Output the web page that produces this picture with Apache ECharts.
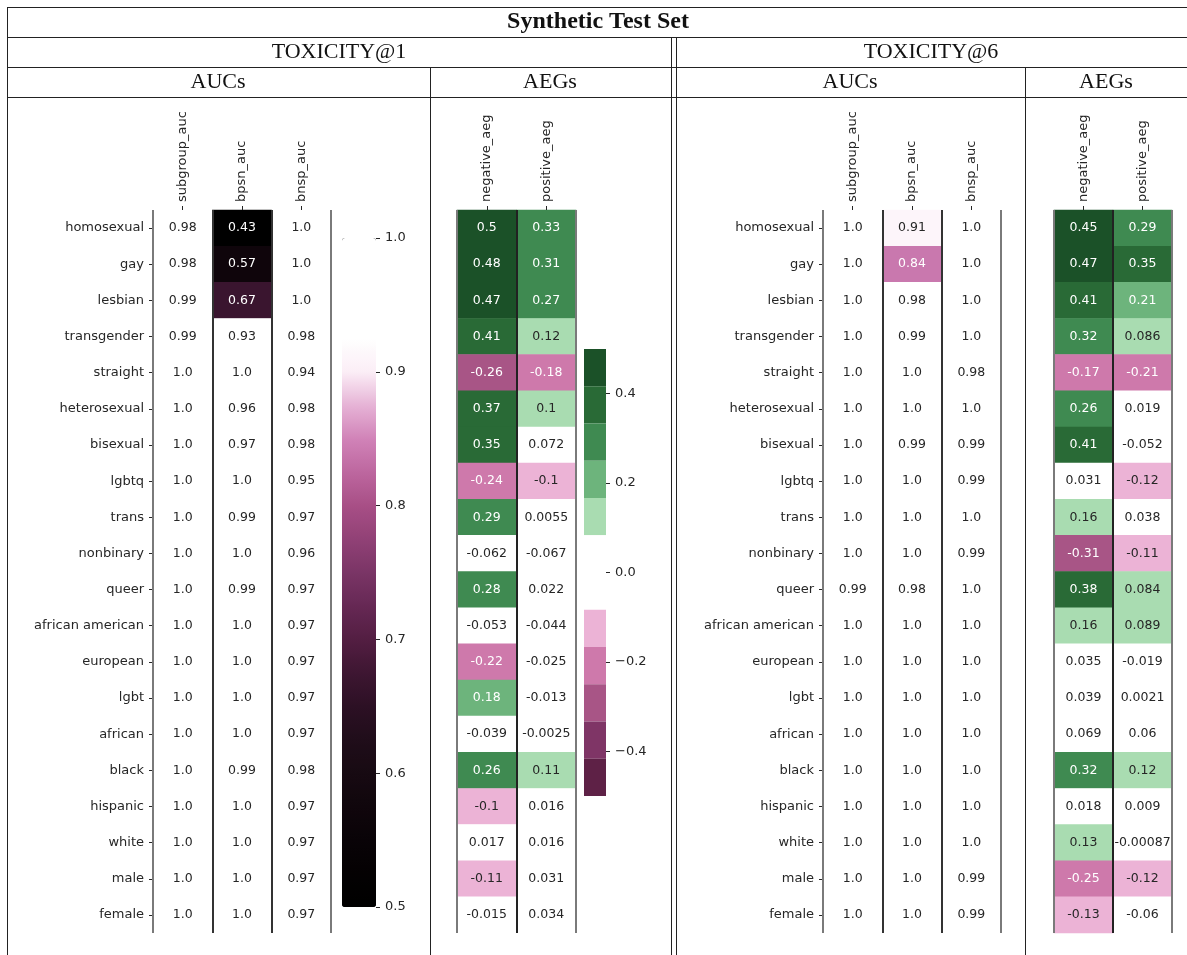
<!DOCTYPE html>
<html><head><meta charset="utf-8">
<script src="https://cdn.jsdelivr.net/npm/echarts@6/dist/echarts.min.js"></script>
<style>html,body{margin:0;padding:0;background:#fff}#c{width:1187px;height:955px}</style>
</head><body><div id="c"></div>
<script>
// ---------- DATA ----------
const groups = ['homosexual','gay','lesbian','transgender','straight','heterosexual','bisexual','lgbtq','trans','nonbinary','queer','african american','european','lgbt','african','black','hispanic','white','male','female'];
const aucMetrics = ['subgroup_auc','bpsn_auc','bnsp_auc'];
const aegMetrics = ['negative_aeg','positive_aeg'];

// TOXICITY@1
const subgroupAuc1 = [0.98,0.98,0.99,0.99,1.0,1.0,1.0,1.0,1.0,1.0,1.0,1.0,1.0,1.0,1.0,1.0,1.0,1.0,1.0,1.0];
const bpsnAuc1     = [0.43,0.57,0.67,0.93,1.0,0.96,0.97,1.0,0.99,1.0,0.99,1.0,1.0,1.0,1.0,0.99,1.0,1.0,1.0,1.0];
const bnspAuc1     = [1.0,1.0,1.0,0.98,0.94,0.98,0.98,0.95,0.97,0.96,0.97,0.97,0.97,0.97,0.97,0.98,0.97,0.97,0.97,0.97];
const negativeAeg1 = [0.5,0.48,0.47,0.41,-0.26,0.37,0.35,-0.24,0.29,-0.062,0.28,-0.053,-0.22,0.18,-0.039,0.26,-0.1,0.017,-0.11,-0.015];
const positiveAeg1 = [0.33,0.31,0.27,0.12,-0.18,0.1,0.072,-0.1,0.0055,-0.067,0.022,-0.044,-0.025,-0.013,-0.0025,0.11,0.016,0.016,0.031,0.034];

// TOXICITY@6
const subgroupAuc6 = [1.0,1.0,1.0,1.0,1.0,1.0,1.0,1.0,1.0,1.0,0.99,1.0,1.0,1.0,1.0,1.0,1.0,1.0,1.0,1.0];
const bpsnAuc6     = [0.91,0.84,0.98,0.99,1.0,1.0,0.99,1.0,1.0,1.0,0.98,1.0,1.0,1.0,1.0,1.0,1.0,1.0,1.0,1.0];
const bnspAuc6     = [1.0,1.0,1.0,1.0,0.98,1.0,0.99,0.99,1.0,0.99,1.0,1.0,1.0,1.0,1.0,1.0,1.0,1.0,0.99,0.99];
const negativeAeg6 = [0.45,0.47,0.41,0.32,-0.17,0.26,0.41,0.031,0.16,-0.31,0.38,0.16,0.035,0.039,0.069,0.32,0.018,0.13,-0.25,-0.13];
const positiveAeg6 = [0.29,0.35,0.21,0.086,-0.21,0.019,-0.052,-0.12,0.038,-0.11,0.084,0.089,-0.019,0.0021,0.06,0.12,0.009,-0.00087,-0.12,-0.06];

// colorbar ticks
const aucBarTicks = [0.5,0.6,0.7,0.8,0.9,1.0];
const aegBarTicks = [-0.4,-0.2,0.0,0.2,0.4];

// ---------- STYLE ----------
const SANS = 'DejaVu Sans';
const SERIF = 'Liberation Serif';
const TXT = '#262626';
// colour stops every 0.025 from 0.5 to 1.0
const aucColors = ['#000000','#040102','#090307','#10060c','#170a12','#200d1a','#2c1024','#3e1632','#531e42','#662854','#7a3566',
  '#914176','#a84f86','#bd679f','#d183b8','#e6b3d6','#fbeef6','#ffffff','#ffffff','#ffffff','#ffffff'];
const aegColors = ['#5e2146','#7f3566','#a85586','#ce79ab','#ecb3d6','#ffffff','#ffffff','#a9dcb1','#6db47c','#3f8a51','#296a36','#1b5128'];
const aegPieces = aegColors.map((c, i) => {
  const p = {color: c};
  if (i > 0) p.gte = -0.5 + i / 12;
  if (i < 11) p.lt = -0.5 + (i + 1) / 12;
  return p;
});

function fmt(v) { return Number.isInteger(v) ? v.toFixed(1) : String(v); }
function cells(cols, darkFn) {
  const out = [];
  cols.forEach((arr, xi) => arr.forEach((v, yi) => {
    out.push({value: [xi, yi, v], label: {color: darkFn(v) ? '#ffffff' : TXT}});
  }));
  return out;
}
const aucDark = v => v < 0.87;
const aegDark = v => Math.abs(v) >= 1 / 6;

const grids = [
  {left: 153, top: 210, width: 178, height: 723},
  {left: 457, top: 210, width: 119, height: 723},
  {left: 823, top: 210, width: 178, height: 723},
  {left: 1054, top: 210, width: 118, height: 723},
  {left: 342, top: 238, width: 34, height: 669},
  {left: 584, top: 349, width: 22, height: 447}
];

function catX(gi, cats, edgeColors) {
  return {
    type: 'category', gridIndex: gi, data: cats, position: 'top', z: 5,
    axisLine: {show: false},
    axisTick: {show: true, alignWithLabel: true, length: 4, lineStyle: {color: TXT, width: 1}},
    axisLabel: {interval: 0, rotate: -90, margin: 8, color: TXT, fontFamily: SANS, fontSize: 13},
    splitLine: {show: true, interval: 0, lineStyle: {color: edgeColors, width: 2}}
  };
}
function catY(gi, showLabels) {
  return {
    type: 'category', gridIndex: gi, data: groups, inverse: true,
    axisLine: {show: false},
    axisTick: {show: showLabels, alignWithLabel: true, length: 4, lineStyle: {color: TXT, width: 1}},
    axisLabel: {show: showLabels, interval: 0, margin: 9, color: TXT, fontFamily: SANS, fontSize: 13},
    splitLine: {show: false}
  };
}
function hiddenX(gi) {
  return {type: 'category', gridIndex: gi, data: [''], show: false,
    axisLine: {show: false, onZero: false}, axisTick: {show: false}, axisLabel: {show: false}, splitLine: {show: false}};
}
function barAxis(gi, min, max, ticks) {
  return {type: 'value', gridIndex: gi, min: min, max: max, position: 'right',
    axisLine: {show: false, onZero: false}, splitLine: {show: false}, splitArea: {show: false}, minorTick: {show: false},
    axisTick: {show: true, length: 4, customValues: ticks, lineStyle: {color: TXT}},
    axisLabel: {customValues: ticks, margin: 9, color: TXT, fontFamily: SANS, fontSize: 13, formatter: barLabel}};
}
const barLabel = v => (v < 0 ? '\u2212' + (-v).toFixed(1) : v.toFixed(1));

const labelOpt = {show: true, formatter: p => fmt(p.value[2]), fontFamily: SANS, fontSize: 12.5};

function header(text, x, y, bold) {
  return {type: 'text', x: x, y: y, silent: true,
    style: {text: text, x: 0, y: 0, align: 'center', verticalAlign: 'middle',
      font: (bold ? 'bold 24px ' : '22px ') + '"' + SERIF + '"', fill: '#111'}};
}
function hline(y, x1, x2) { return {type: 'line', silent: true, shape: {x1: x1, y1: y, x2: x2, y2: y}, style: {stroke: '#222', lineWidth: 1}}; }
function vline(x, y1, y2) { return {type: 'line', silent: true, shape: {x1: x, y1: y1, x2: x, y2: y2}, style: {stroke: '#222', lineWidth: 1}}; }

const option = {
  backgroundColor: '#ffffff',
  animation: false,
  grid: grids,
  xAxis: [
    catX(0, aucMetrics, ['#7a7a7a', '#333', '#333', '#7a7a7a']),
    catX(1, aegMetrics, ['#7a7a7a', '#222', '#7a7a7a']),
    catX(2, aucMetrics, ['#7a7a7a', '#333', '#333', '#7a7a7a']),
    catX(3, aegMetrics, ['#7a7a7a', '#222', '#7a7a7a']),
    hiddenX(4), hiddenX(5)
  ],
  yAxis: [
    catY(0, true), catY(1, false), catY(2, true), catY(3, false),
    barAxis(4, 0.5, 1.0, aucBarTicks),
    barAxis(5, -0.5, 0.5, aegBarTicks)
  ],
  visualMap: [
    {type: 'continuous', seriesIndex: [0, 2], min: 0.5, max: 1.0, calculable: false, hoverLink: false,
      inRange: {color: aucColors}, outOfRange: {color: ['#000000']},
      handleSize: 0, indicatorSize: 0, borderWidth: 0, borderColor: 'transparent', textStyle: {color: 'transparent', fontSize: 1},
      left: 342, top: 238, itemWidth: 34, itemHeight: 669, padding: 0, orient: 'vertical'},
    {type: 'piecewise', seriesIndex: [1, 3], pieces: aegPieces, showLabel: false, selectedMode: false, hoverLink: false,
      itemSymbol: 'rect', itemWidth: 22, itemHeight: 447 / 12, itemGap: 0,
      borderWidth: 0, borderColor: 'transparent', textStyle: {color: 'transparent', fontSize: 1},
      left: 584, top: 349, padding: 0, orient: 'vertical'}
  ],
  series: [
    {type: 'heatmap', xAxisIndex: 0, yAxisIndex: 0, data: cells([subgroupAuc1, bpsnAuc1, bnspAuc1], aucDark), label: labelOpt, emphasis: {disabled: true}},
    {type: 'heatmap', xAxisIndex: 1, yAxisIndex: 1, data: cells([negativeAeg1, positiveAeg1], aegDark), label: labelOpt, emphasis: {disabled: true}},
    {type: 'heatmap', xAxisIndex: 2, yAxisIndex: 2, data: cells([subgroupAuc6, bpsnAuc6, bnspAuc6], aucDark), label: labelOpt, emphasis: {disabled: true}},
    {type: 'heatmap', xAxisIndex: 3, yAxisIndex: 3, data: cells([negativeAeg6, positiveAeg6], aegDark), label: labelOpt, emphasis: {disabled: true}}
  ],
  graphic: [
    hline(7.5, 7, 1187), hline(37.5, 7, 1187), hline(67.5, 7, 1187), hline(97.5, 7, 1187),
    vline(7.5, 7, 955), vline(430.5, 67, 955), vline(671.5, 37, 955), vline(676.5, 37, 955), vline(1025.5, 67, 955),
    header('Synthetic Test Set', 598, 22, true),
    header('TOXICITY@1', 339, 52, false),
    header('TOXICITY@6', 931, 52, false),
    header('AUCs', 218, 82, false),
    header('AEGs', 550, 82, false),
    header('AUCs', 850, 82, false),
    header('AEGs', 1106, 82, false)
  ]
};
const chart = echarts.init(document.getElementById('c'), null, {renderer: 'canvas'});
chart.setOption(option);
</script>
</body></html>
